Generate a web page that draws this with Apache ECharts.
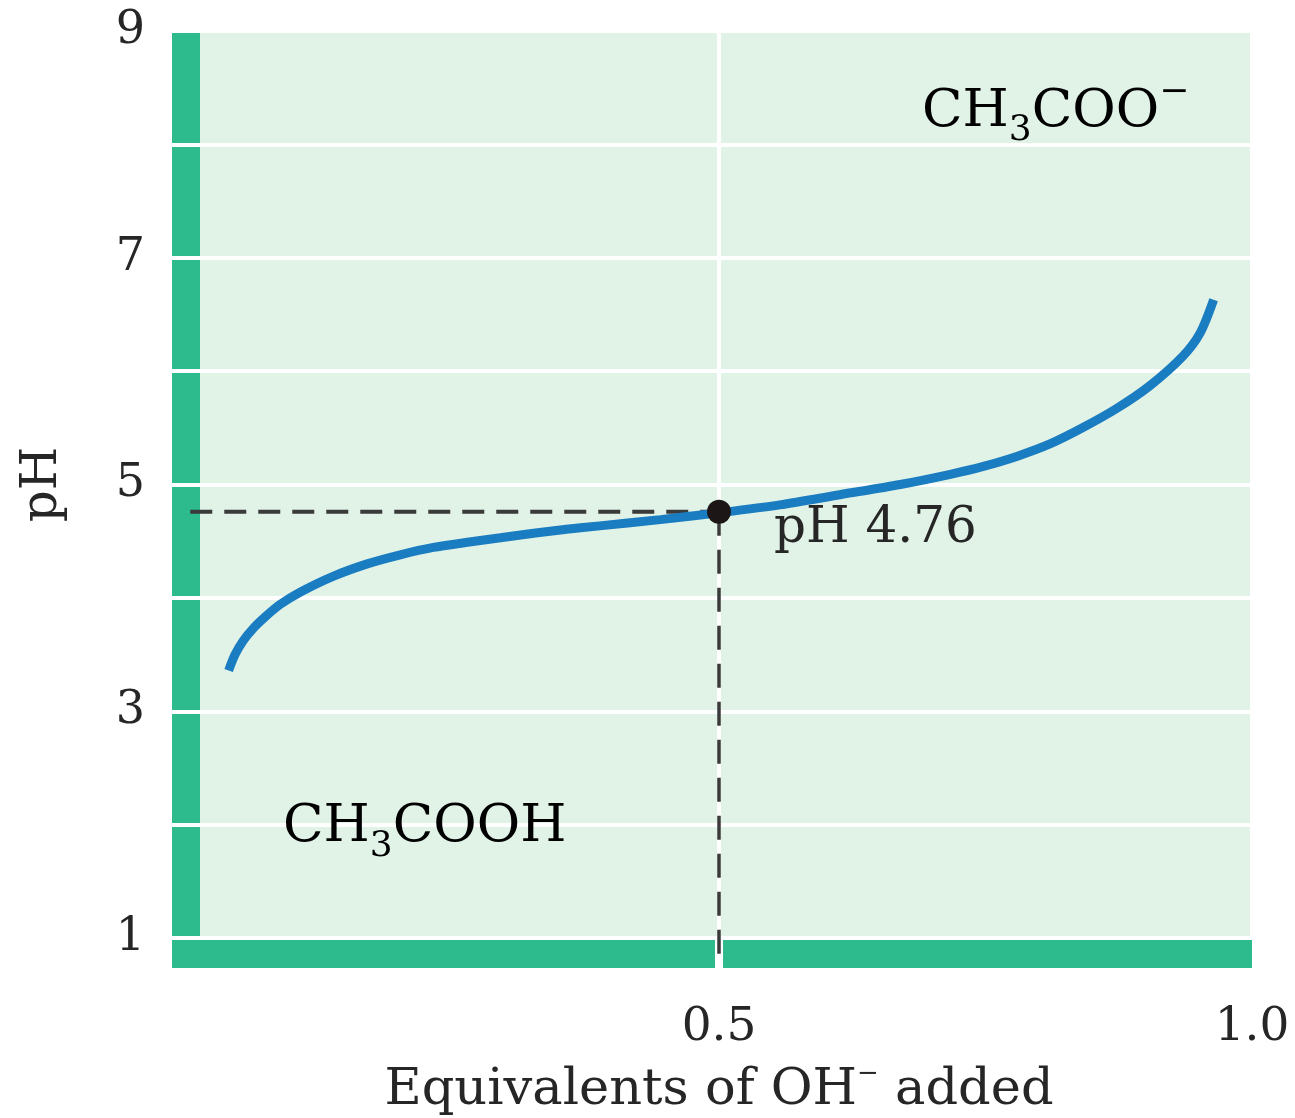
<!DOCTYPE html>
<html><head><meta charset="utf-8">
<script src="https://cdn.jsdelivr.net/npm/echarts@6/dist/echarts.min.js"></script>
<style>html,body{margin:0;padding:0;background:#fff}#c{width:1295px;height:1118px}</style>
</head><body><div id="c"></div>
<script>
// ---- data ----
const xTickLabels = ['0.5', '1.0'];
const yTickLabels = ['1', '3', '5', '7', '9'];
const curveX  = [0.040, 0.046, 0.0535, 0.063, 0.074, 0.088, 0.107, 0.138, 0.170, 0.201, 0.232, 0.264, 0.295, 0.326, 0.357, 0.388, 0.445, 0.500, 0.557, 0.6135, 0.670, 0.717, 0.748, 0.780, 0.811, 0.841, 0.873, 0.904, 0.935, 0.951, 0.964];
const curvePH = [3.36, 3.50, 3.62, 3.73, 3.83, 3.94, 4.05, 4.19, 4.30, 4.38, 4.445, 4.49, 4.53, 4.57, 4.605, 4.635, 4.69, 4.75, 4.82, 4.91, 5.00, 5.09, 5.16, 5.25, 5.36, 5.50, 5.67, 5.87, 6.13, 6.33, 6.63];
const halfEqX = 0.5;
const pKa = 4.76;
const guideStartX = 0.004;
const guideBottomPH = 0.76;
const pointLabel = 'pH 4.76';
const xName = 'Equivalents of OH{sup|−} added';
const yName = 'pH';
const baseLabel = '{m|CH}{sub|3}{m|COO}{sup|−}';
const acidLabel = '{m|CH}{sub|3}{m|COOH}';

// ---- style ----
const FONT = 'DejaVu Serif';
const TXT = '#262626';
const GREEN = '#2dbb8d';
const BG = '#e1f2e7';
const BLUE = '#1a7cc1';
const DASH = '#3a3a3a';

const chemRich = {
  m:   { fontFamily: FONT, fontSize: 53, lineHeight: 74, color: TXT },
  sub: { fontFamily: FONT, fontSize: 36, lineHeight: 34, verticalAlign: 'bottom', color: TXT },
  sup: { fontFamily: FONT, fontSize: 36, lineHeight: 36, verticalAlign: 'top', color: TXT }
};

const chart = echarts.init(document.getElementById('c'), null, { renderer: 'canvas' });
chart.setOption({
  animation: false,
  backgroundColor: '#ffffff',
  grid: { left: 186, right: 43, top: 31, bottom: 180, show: true, backgroundColor: BG, borderWidth: 0,
    containLabel: false, outerBoundsMode: 'none' },
  xAxis: {
    type: 'value', min: 0, max: 1, interval: 0.5, z: 0,
    offset: 16,
    axisLine: { show: true, onZero: false, symbol: ['rect', 'none'], symbolSize: [28, 28],
      lineStyle: { color: GREEN, width: 28, cap: 'butt' } },
    axisTick: { show: false },
    splitLine: { show: true, lineStyle: { color: '#ffffff', width: 4 } },
    axisLabel: {
      margin: 50, fontFamily: FONT, fontSize: 47, color: TXT,
      formatter: v => { const s = v.toFixed(1); return xTickLabels.indexOf(s) >= 0 ? s : ''; }
    },
    name: xName, nameLocation: 'middle', nameGap: 107,
    nameTextStyle: { fontFamily: FONT, fontSize: 51, color: TXT, lineHeight: 60,
      rich: { sup: { fontFamily: FONT, fontSize: 26, lineHeight: 22, verticalAlign: 'top', color: TXT } } }
  },
  yAxis: [{
    type: 'value', min: 1, max: 9, interval: 1, z: 1,
    axisLine: { show: true, onZero: false, lineStyle: { color: GREEN, width: 28, cap: 'butt' } },
    axisTick: { show: false },
    splitLine: { show: true, lineStyle: { color: '#ffffff', width: 4 } },
    axisLabel: {
      margin: 41, fontFamily: FONT, fontSize: 46, color: TXT,
      formatter: v => { const s = String(v); return yTickLabels.indexOf(s) >= 0 ? s : ''; }
    },
    name: yName, nameLocation: 'middle', nameRotate: 90, nameGap: 118,
    nameTextStyle: { fontFamily: FONT, fontSize: 50, color: TXT }
  }, {
    // white notches across the green y bar at every pH unit
    type: 'value', min: 1, max: 9, interval: 1, z: 3, position: 'left', offset: -14,
    axisLine: { show: false },
    axisTick: { show: true, length: 28, lineStyle: { color: '#ffffff', width: 4 } },
    axisLabel: { show: false },
    splitLine: { show: false }
  }],
  graphic: [
    { type: 'text', left: 922, top: 75, z: 10, style: { text: baseLabel, rich: chemRich } },
    { type: 'text', left: 283, top: 801, z: 10, style: { text: acidLabel, rich: chemRich } }
  ],
  series: [
    { type: 'line', name: 'gap', silent: true, clip: false, symbol: 'none', z: 3,
      data: [[halfEqX, 1], [halfEqX, guideBottomPH - 0.03]],
      lineStyle: { color: '#ffffff', width: 8 } },
    { type: 'line', name: 'guideH', silent: true, clip: false, symbol: 'none', z: 4,
      data: [[guideStartX, pKa], [halfEqX, pKa]],
      lineStyle: { color: DASH, width: 4, type: [22, 12] } },
    { type: 'line', name: 'guideV', silent: true, clip: false, symbol: 'none', z: 4,
      data: [[halfEqX, pKa], [halfEqX, guideBottomPH]],
      lineStyle: { color: DASH, width: 3.5, type: [24, 14] } },
    { type: 'line', name: 'curve', silent: true, symbol: 'none', smooth: 0.3, z: 5,
      data: curveX.map((x, i) => [x, curvePH[i]]),
      lineStyle: { color: BLUE, width: 9, cap: 'butt' } },
    { type: 'scatter', name: 'half', silent: true, z: 6, symbol: 'circle', symbolSize: 24,
      data: [[halfEqX, pKa]],
      itemStyle: { color: '#1c1616', opacity: 1 },
      label: { show: true, position: 'right', distance: 43, offset: [0, 17], opacity: 1,
        formatter: pointLabel, fontFamily: FONT, fontSize: 50, color: TXT } }
  ]
});
</script></body></html>
